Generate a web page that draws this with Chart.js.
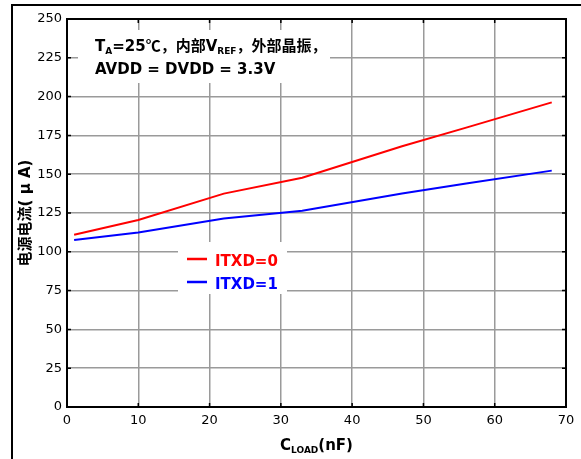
<!DOCTYPE html>
<html>
<head>
<meta charset="utf-8">
<script src="https://cdn.jsdelivr.net/npm/chart.js@4/dist/chart.umd.min.js"></script>
<style>
  html, body { margin: 0; padding: 0; background: #fff; }
  #wrap { width: 581px; height: 459px; }
</style>
</head>
<body>
<div id="wrap"><canvas id="chart" width="581" height="459"></canvas></div>
<script>
// load capacitance (nF) and supply current (uA)
const cLoad = [1, 10, 22, 33, 47, 56, 68];
const itxd0 = [111, 120.5, 137.5, 147.7, 168, 180, 196.3];
const itxd1 = [107.6, 112.5, 121.5, 126.5, 137.6, 144, 152.3];
const seriesNames = ['ITXD=0', 'ITXD=1'];
const seriesColors = ['#ff0000', '#0000ff'];
const xTicks = [0, 10, 20, 30, 40, 50, 60, 70];
const yTicks = [0, 25, 50, 75, 100, 125, 150, 175, 200, 225, 250];

const FONT = '"DejaVu Sans", "Noto Sans CJK SC", sans-serif';
const CJK = '"Noto Sans CJK SC", sans-serif';

// draw a line of text made of runs, some of them subscript
function runFont(r, size) {
    const s = r.sub ? Math.round(size * 0.62) : size;
    return 'bold ' + s + 'px ' + (r.cjk ? CJK : FONT);
}
function drawRuns(c, x, y, runs, size) {
    let cx = x;
    runs.forEach(r => {
        c.font = runFont(r, size);
        c.fillText(r.t, cx, y + (r.sub ? 3 : 0));
        cx += c.measureText(r.t).width;
    });
    return cx - x;
}
function runsWidth(c, runs, size) {
    let w = 0;
    runs.forEach(r => {
        c.font = runFont(r, size);
        w += c.measureText(r.t).width;
    });
    return w;
}

const overlay = {
    id: 'overlay',
    beforeDraw(chart) {
        const c = chart.ctx;
        c.save();
        c.fillStyle = '#fff';
        c.fillRect(0, 0, chart.width, chart.height);
        // outer frame (left and top edges)
        c.fillStyle = '#000';
        c.fillRect(11, 4, chart.width - 11, 2);
        c.fillRect(11, 4, 2, chart.height - 4);
        c.restore();
    },
    beforeDatasetsDraw(chart) {
        const c = chart.ctx;
        const a = chart.chartArea;
        c.save();
        c.fillStyle = '#fff';
        // annotation and legend backgrounds hide the grid
        c.fillRect(a.left + 11, a.top + 11, 252, 53);
        c.fillRect(a.left + 111, a.top + 223, 109, 52);
        c.restore();
    },
    afterDatasetsDraw(chart) {
        const c = chart.ctx;
        const a = chart.chartArea;
        const {x, y} = chart.scales;
        c.save();

        // plot border with short inward ticks
        c.strokeStyle = '#000';
        c.lineWidth = 2;
        c.strokeRect(a.left, a.top, a.right - a.left, a.bottom - a.top);
        c.lineWidth = 1.5;
        c.beginPath();
        xTicks.forEach(v => {
            const px = x.getPixelForValue(v);
            c.moveTo(px, a.bottom); c.lineTo(px, a.bottom - 4);
            c.moveTo(px, a.top); c.lineTo(px, a.top + 4);
        });
        yTicks.forEach(v => {
            const py = y.getPixelForValue(v);
            c.moveTo(a.left, py); c.lineTo(a.left + 4, py);
            c.moveTo(a.right, py); c.lineTo(a.right - 4, py);
        });
        c.stroke();

        // conditions note
        c.fillStyle = '#000';
        c.textBaseline = 'alphabetic';
        c.textAlign = 'left';
        drawRuns(c, a.left + 28, a.top + 32, [
            {t: 'T'}, {t: 'A', sub: true}, {t: '=25'}, {t: '℃，内部', cjk: true}, {t: 'V'},
            {t: 'REF', sub: true}, {t: '，外部晶振，', cjk: true}
        ], 15);
        drawRuns(c, a.left + 28, a.top + 55, [{t: 'AVDD = DVDD = 3.3V'}], 15);

        // legend
        const lx = a.left + 120;
        const ly = [a.top + 240, a.top + 263];
        seriesNames.forEach((n, i) => {
            c.strokeStyle = seriesColors[i];
            c.lineWidth = 2.5;
            c.beginPath();
            c.moveTo(lx, ly[i]); c.lineTo(lx + 20, ly[i]);
            c.stroke();
            c.fillStyle = seriesColors[i];
            c.font = 'bold 15px ' + FONT;
            c.fillText(n, lx + 28, ly[i] + 7);
        });

        // axis titles
        c.fillStyle = '#000';
        const xr = [{t: 'C'}, {t: 'LOAD', sub: true}, {t: '(nF)'}];
        const w = runsWidth(c, xr, 15);
        drawRuns(c, (a.left + a.right) / 2 - w / 2, 450, xr, 15);

        c.translate(30, (a.top + a.bottom) / 2);
        c.rotate(-Math.PI / 2);
        c.textAlign = 'center';
        c.font = 'bold 15px ' + FONT;
        c.fillText('电源电流( μ A)', 0, 0);
        c.restore();
    }
};

new Chart(document.getElementById('chart'), {
    type: 'line',
    data: {
        datasets: [
            { label: seriesNames[0], data: cLoad.map((v, i) => ({x: v, y: itxd0[i]})),
              borderColor: seriesColors[0], borderWidth: 2, pointRadius: 0, tension: 0, fill: false },
            { label: seriesNames[1], data: cLoad.map((v, i) => ({x: v, y: itxd1[i]})),
              borderColor: seriesColors[1], borderWidth: 2, pointRadius: 0, tension: 0, fill: false }
        ]
    },
    options: {
        responsive: false,
        animation: false,
        layout: { padding: { top: 19, right: 15, left: 0, bottom: 0 } },
        plugins: { legend: { display: false }, tooltip: { enabled: false } },
        scales: {
            x: {
                type: 'linear',
                min: 0, max: 70,
                afterBuildTicks: s => { s.ticks = xTicks.map(v => ({value: v})); },
                afterFit: s => { s.height = 52; },
                grid: { color: '#9a9a9a', lineWidth: 1.5, drawTicks: false },
                border: { display: false },
                ticks: { color: '#000', padding: 6, maxRotation: 0,
                         font: { family: FONT, size: 13 } }
            },
            y: {
                min: 0, max: 250,
                afterBuildTicks: s => { s.ticks = yTicks.map(v => ({value: v})); },
                afterFit: s => { s.width = 67; },
                grid: { color: '#9a9a9a', lineWidth: 1.5, drawTicks: false },
                border: { display: false },
                ticks: { color: '#000', padding: 5,
                         font: { family: FONT, size: 13 } }
            }
        }
    },
    plugins: [overlay]
});
</script>
</body>
</html>
